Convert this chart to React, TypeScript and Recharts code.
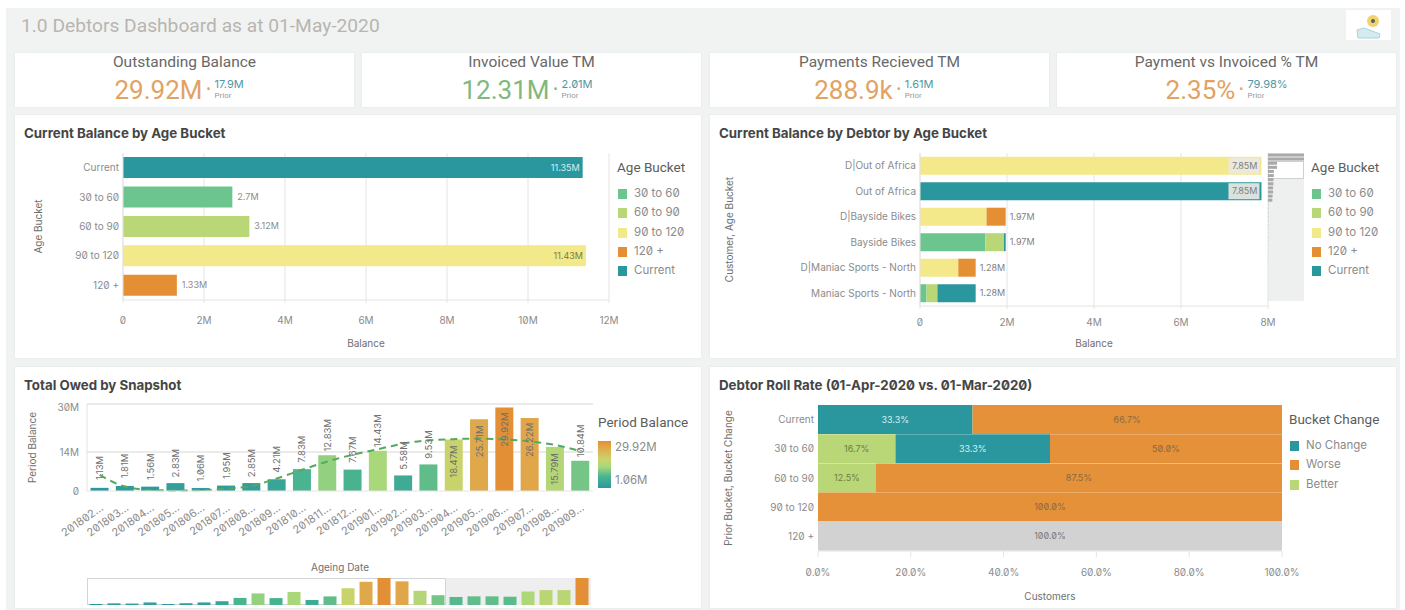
import React from "react";
import {
  BarChart,
  Bar,
  Cell,
  ComposedChart,
  Line,
  XAxis,
  YAxis,
  CartesianGrid,
  LabelList,
} from "recharts";

const ageBuckets = ["Current", "30 to 60", "60 to 90", "90 to 120", "120 +"];
const ageBalances = [11.35, 2.7, 3.12, 11.43, 1.33];
const ageBalanceLabels = ["11.35M", "2.7M", "3.12M", "11.43M", "1.33M"];

const debtors = [
  "D|Out of Africa",
  "Out of Africa",
  "D|Bayside Bikes",
  "Bayside Bikes",
  "D|Maniac Sports - North",
  "Maniac Sports - North",
];
const debtor30to60 = [0, 0, 0, 1.5, 0, 0.15];
const debtor60to90 = [0, 0, 0, 0.43, 0, 0.25];
const debtor90to120 = [7.85, 0, 1.53, 0, 0.88, 0];
const debtor120plus = [0, 0, 0.44, 0, 0.4, 0];
const debtorCurrent = [0, 7.85, 0, 0.04, 0, 0.88];
const debtorTotals = ["7.85M", "7.85M", "1.97M", "1.97M", "1.28M", "1.28M"];
const debtorScrollValues = [
  7.85, 7.85, 1.97, 1.97, 1.28, 1.28, 1.2, 1.2, 1.1, 1.1, 1.0, 0.95, 0.08, 0.08,
  0.07, 0.07, 0.06, 0.06, 0.05, 0.05, 0.05, 0.05, 0.04, 0.04, 0.04, 0.04, 0.03,
  0.03, 0.03, 0.03, 0.02, 0.02, 0.02, 0.02, 0.02, 0.02,
];

const snapshotDates = [
  "201802...", "201803...", "201804...", "201805...", "201806...", "201807...", "201808...",
  "201809...", "201810...", "201811...", "201812...", "201901...", "201902...", "201903...",
  "201904...", "201905...", "201906...", "201907...", "201908...", "201909...",
];
const snapshotBalances = [
  1.13, 1.81, 1.56, 2.83, 1.06, 1.95, 2.85, 4.21, 7.83, 12.83, 7.67, 14.43, 5.58, 9.53, 18.47,
  25.71, 29.92, 26.22, 15.79, 10.84,
];
const snapshotTrend = [
  5.8, 1.6, 0.4, 0.2, 0.3, 0.8, 1.8, 4.5, 7.6, 10.6, 13, 15, 17, 18.2, 18.6, 18.8, 18.5, 17.8,
  16.5, 14.3,
];
const navigatorBalances = [
  1.13, 1.81, 1.56, 2.83, 1.06, 1.95, 2.85, 4.21, 7.83, 12.83, 7.67, 14.43, 5.58, 9.53, 18.47,
  25.71, 29.92, 26.22, 15.79, 10.84, 8.9, 9.6, 9.6, 9.2, 15, 16.5, 16.5, 29.92,
];

const rollBuckets = ["Current", "30 to 60", "60 to 90", "90 to 120", "120 +"];
const rollBetter = [0, 16.7, 12.5, 0, 0];
const rollNoChange = [33.3, 33.3, 0, 0, 0];
const rollWorse = [66.7, 50, 87.5, 100, 0];
const rollUnknown = [0, 0, 0, 0, 100];

const kpis = [
  { title: "Outstanding Balance", value: "29.92M", prior: "17.9M", color: "#e2a262" },
  { title: "Invoiced Value TM", value: "12.31M", prior: "2.01M", color: "#82b87c" },
  { title: "Payments Recieved TM", value: "288.9k", prior: "1.61M", color: "#e2a262" },
  { title: "Payment vs Invoiced % TM", value: "2.35%", prior: "79.98%", color: "#e2a262" },
];

const C30 = "#6cc58f";
const C60 = "#b9d777";
const C90 = "#f3e98a";
const C120 = "#e58f35";
const CCUR = "#2a979f";
const bucketColors = [CCUR, C30, C60, C90, C120];
const ageLegend = [
  ["30 to 60", C30],
  ["60 to 90", C60],
  ["90 to 120", C90],
  ["120 +", C120],
  ["Current", CCUR],
];
const rollLegend = [
  ["No Change", CCUR],
  ["Worse", C120],
  ["Better", C60],
];

const rampStops: [number, number[]][] = [
  [0, [43, 152, 160]],
  [0.25, [76, 181, 142]],
  [0.45, [166, 216, 124]],
  [0.6, [201, 212, 108]],
  [0.85, [223, 170, 76]],
  [1, [227, 143, 53]],
];

function rampColor(v: number) {
  const t = (v - 1.06) / (29.92 - 1.06);
  for (let i = 1; i < rampStops.length; i++) {
    if (t <= rampStops[i][0]) {
      const [t0, c0] = rampStops[i - 1];
      const [t1, c1] = rampStops[i];
      const f = Math.max(0, (t - t0) / (t1 - t0));
      return `rgb(${c0.map((c, k) => Math.round(c + (c1[k] - c) * f)).join(",")})`;
    }
  }
  return "rgb(227,143,53)";
}

const ageData = ageBuckets.map((name, i) => ({ name, value: ageBalances[i], label: ageBalanceLabels[i] }));
const debtorData = debtors.map((name, i) => ({
  name,
  a: debtor30to60[i],
  b: debtor60to90[i],
  c: debtor90to120[i],
  d: debtor120plus[i],
  e: debtorCurrent[i],
  // hairline segment at the end of each stack, only there to carry the total label
  anchor: 0.001,
  total: debtorTotals[i],
}));
const snapshotData = snapshotDates.map((name, i) => ({
  name,
  value: snapshotBalances[i],
  trend: snapshotTrend[i],
}));
const navigatorData = navigatorBalances.map((value, i) => ({ id: i, value }));
const scrollData = debtorScrollValues.map((value, i) => ({ id: i, value }));
const rollData = rollBuckets.map((name, i) => ({
  name,
  better: rollBetter[i],
  same: rollNoChange[i],
  worse: rollWorse[i],
  unknown: rollUnknown[i],
}));

const TICK = { fontSize: 10, fill: "#8b8b8b" };
const AXIS_TITLE = { fontSize: 10, fill: "#6f6f6f" };
const GRID = "#e6e4e2";
const fmtM = (v: number) => (v === 0 ? "0" : `${v}M`);
const fmtPct = (v: number) => `${v.toFixed(1)}%`;
const fmtCell = (v: any) => (v ? `${Number(v).toFixed(1)}%` : "");

function AgeLabel(props: any) {
  const { x, y, width, height, value, index } = props;
  const inside = width > 200;
  return (
    <text
      x={inside ? x + width - 3 : x + width + 5}
      y={y + height / 2 + 3}
      textAnchor={inside ? "end" : "start"}
      fontSize={9}
      fill={inside ? (index === 0 ? "#d6eef0" : "#7d7a45") : "#8b8b8b"}
    >
      {value}
    </text>
  );
}

function DebtorLabel(props: any) {
  const { x, y, height, value, index } = props;
  const big = index < 2;
  return (
    <g>
      {big && <rect x={x - 33} y={y + 1} width={31} height={height - 2} fill="#e9e8e3" opacity={0.92} />}
      <text
        x={big ? x - 4 : x + 4}
        y={y + height / 2 + 3}
        textAnchor={big ? "end" : "start"}
        fontSize={9}
        fill="#7f7f7f"
      >
        {value}
      </text>
    </g>
  );
}

function SnapshotLabel(props: any) {
  const { x, y, width, value } = props;
  const inside = value > 15;
  const cx = x + width / 2;
  const cy = inside ? y + 22 : y - 20;
  return (
    <text
      x={cx}
      y={cy}
      transform={`rotate(-90 ${cx} ${cy})`}
      textAnchor="middle"
      dominantBaseline="central"
      fontSize={9.5}
      fill="#6f6f6f"
    >
      {`${value}M`}
    </text>
  );
}

function Panel({ left, top, width, height, title }: any) {
  return (
    <div
      style={{
        position: "absolute",
        left,
        top,
        width,
        height,
        background: "#fff",
        boxShadow: "0 0 2px #dfe2e2",
      }}
    >
      <div
        style={{
          position: "absolute",
          left: 9,
          top: 10,
          fontSize: 13.3,
          fontWeight: 700,
          color: "#454545",
          whiteSpace: "nowrap",
        }}
      >
        {title}
      </div>
    </div>
  );
}

function LegendBox({ left, top, title, items, step = 19.3, textGap = 17 }: any) {
  return (
    <div style={{ position: "absolute", left, top, whiteSpace: "nowrap" }}>
      <div style={{ fontSize: 13.5, color: "#5c5c5c", fontFamily: "Roboto" }}>{title}</div>
      {items.map(([name, color]: string[], i: number) => (
        <div key={name} style={{ position: "absolute", left: 0, top: 29 + i * step, height: 12 }}>
          <div style={{ position: "absolute", left: 1, top: 1, width: 9, height: 10, background: color }} />
          <div style={{ position: "absolute", left: textGap, top: -2, fontSize: 11.5, color: "#8b8b8b" }}>
            {name}
          </div>
        </div>
      ))}
    </div>
  );
}

function KpiCard({ kpi, left }: any) {
  return (
    <div
      style={{
        position: "absolute",
        left,
        top: 53,
        width: 339,
        height: 54,
        background: "#fff",
        boxShadow: "0 0 2px #dfe2e2",
        fontFamily: "Roboto",
        fontFeatureSettings: "normal",
      }}
    >
      <div style={{ position: "absolute", top: 0, width: "100%", textAlign: "center", fontSize: 15.5, color: "#686868" }}>
        {kpi.title}
      </div>
      <div
        style={{
          position: "absolute",
          top: 21,
          width: "100%",
          display: "flex",
          justifyContent: "center",
          alignItems: "flex-start",
          gap: 4,
        }}
      >
        <span style={{ fontSize: 26, lineHeight: "33px", color: kpi.color }}>{kpi.value}</span>
        <span style={{ fontSize: 12, lineHeight: "30px", color: kpi.color }}>•</span>
        <span style={{ display: "block", width: 40 }}>
          <span style={{ display: "block", fontFamily: "Inter", fontFeatureSettings: '"zero"', fontSize: 11, lineHeight: "12px", marginTop: 4, color: "#4f97a3" }}>
            {kpi.prior}
          </span>
          <span style={{ display: "block", fontSize: 8, lineHeight: "11px", color: "#9a9a9a" }}>Prior</span>
        </span>
      </div>
    </div>
  );
}

export default function App() {
  return (
    <div
      style={{
        position: "absolute",
        left: 0,
        top: 0,
        width: 1405,
        height: 610,
        overflow: "hidden",
        background: "#fff",
        fontFamily: "Inter",
        fontFeatureSettings: '"zero"',
      }}
    >
      <div style={{ position: "absolute", left: 6, top: 8, width: 1394, height: 602, background: "#f1f3f3" }} />
      <div
        style={{
          position: "absolute",
          left: 21,
          top: 14,
          fontFamily: "Roboto",
          fontFeatureSettings: "normal",
          fontSize: 19.2,
          color: "#b8b5b1",
          whiteSpace: "nowrap",
        }}
      >
        1.0 Debtors Dashboard as at 01-May-2020
      </div>
      <svg style={{ position: "absolute", left: 1346, top: 10 }} width={45} height={30}>
        <rect width={45} height={30} fill="#fff" />
        <path d="M11 20 L18 18 L34 24 L33 28 L12 28 Z" fill="#d6ebef" stroke="#a8d3dc" />
        <circle cx={27} cy={11} r={6} fill="#f2d36b" />
        <circle cx={27} cy={11} r={2} fill="#55606b" />
      </svg>

      <KpiCard kpi={kpis[0]} left={15} />
      <KpiCard kpi={kpis[1]} left={362} />
      <KpiCard kpi={kpis[2]} left={710} />
      <KpiCard kpi={kpis[3]} left={1057} />

      <Panel left={15} top={115} width={686} height={243} title="Current Balance by Age Bucket" />
      <Panel left={710} top={115} width={686} height={243} title="Current Balance by Debtor by Age Bucket" />
      <Panel left={15} top={367} width={686} height={241} title="Total Owed by Snapshot" />
      <Panel left={710} top={367} width={686} height={241} title="Debtor Roll Rate (01-Apr-2020 vs. 01-Mar-2020)" />

      <div style={{ position: "absolute", left: 15, top: 115 }}>
        <BarChart
          width={686}
          height={243}
          data={ageData}
          layout="vertical"
          margin={{ top: 38, right: 92, bottom: 0, left: 0 }}
          barCategoryGap="14%"
        >
          <CartesianGrid horizontal={false} stroke={GRID} />
          <XAxis
            type="number"
            domain={[0, 12]}
            ticks={[0, 2, 4, 6, 8, 10, 12]}
            tickFormatter={fmtM}
            height={58}
            tick={TICK}
            stroke={GRID}
            tickSize={3}
            tickMargin={14}
            label={{ value: "Balance", position: "insideBottom", offset: 11, style: AXIS_TITLE }}
          />
          <YAxis
            type="category"
            dataKey="name"
            width={108}
            tick={TICK}
            tickLine={false}
            tickSize={2}
            stroke={GRID}
            label={{ value: "Age Bucket", angle: -90, position: "center", dx: -31, style: AXIS_TITLE }}
          />
          <Bar dataKey="value" isAnimationActive={false}>
            {ageData.map((d, i) => (
              <Cell key={d.name} fill={bucketColors[i]} />
            ))}
            <LabelList dataKey="label" content={AgeLabel} />
          </Bar>
        </BarChart>
      </div>
      <LegendBox left={617} top={159} title="Age Bucket" items={ageLegend} />

      <div style={{ position: "absolute", left: 710, top: 115 }}>
        <BarChart
          width={686}
          height={243}
          data={debtorData}
          layout="vertical"
          margin={{ top: 38, right: 128, bottom: 0, left: 0 }}
          barCategoryGap="14.5%"
        >
          <CartesianGrid horizontal={false} stroke={GRID} />
          <XAxis
            type="number"
            domain={[0, 8]}
            ticks={[0, 2, 4, 6, 8]}
            tickFormatter={fmtM}
            height={52}
            tick={TICK}
            stroke={GRID}
            tickSize={3}
            tickMargin={10}
            label={{ value: "Balance", position: "insideBottom", offset: 11, style: AXIS_TITLE }}
          />
          <YAxis
            type="category"
            dataKey="name"
            width={210}
            tick={TICK}
            tickLine={false}
            tickSize={2}
            stroke={GRID}
            interval={0}
            label={{ value: "Customer, Age Bucket", angle: -90, position: "center", dx: -86, style: AXIS_TITLE }}
          />
          <Bar dataKey="a" stackId="s" fill={C30} isAnimationActive={false} />
          <Bar dataKey="b" stackId="s" fill={C60} isAnimationActive={false} />
          <Bar dataKey="c" stackId="s" fill={C90} isAnimationActive={false} />
          <Bar dataKey="d" stackId="s" fill={C120} isAnimationActive={false} />
          <Bar dataKey="e" stackId="s" fill={CCUR} isAnimationActive={false} />
          <Bar dataKey="anchor" stackId="s" fill="none" isAnimationActive={false}>
            <LabelList dataKey="total" content={DebtorLabel} />
          </Bar>
        </BarChart>
      </div>
      <div style={{ position: "absolute", left: 1268, top: 153, width: 36, height: 148, background: "#eef0f0" }} />
      <div style={{ position: "absolute", left: 1268, top: 161, width: 36, height: 18, background: "#fff", boxShadow: "inset 0 0 0 1px #cfcfcf" }} />
      <div style={{ position: "absolute", left: 1268, top: 153 }}>
        <BarChart
          width={36}
          height={148}
          data={scrollData}
          layout="vertical"
          margin={{ top: 0, right: 0, bottom: 0, left: 0 }}
          barCategoryGap="12%"
        >
          <XAxis type="number" hide domain={[0, 7.85]} />
          <YAxis type="category" dataKey="id" hide />
          <Bar dataKey="value" fill="#a9a9a9" isAnimationActive={false} />
        </BarChart>
      </div>
      <LegendBox left={1311} top={159} title="Age Bucket" items={ageLegend} />

      <div style={{ position: "absolute", left: 15, top: 367 }}>
        <ComposedChart
          width={686}
          height={208}
          data={snapshotData}
          margin={{ top: 37, right: 108, bottom: 0, left: 0 }}
          barCategoryGap="14%"
        >
          <CartesianGrid vertical={false} horizontalValues={[14, 31.2]} stroke={GRID} strokeWidth={1.5} />
          <XAxis
            dataKey="name"
            interval={0}
            angle={-35}
            textAnchor="end"
            height={84}
            tick={{ fontSize: 11, fill: "#8b8b8b" }}
            tickLine={false}
            tickMargin={6}
            stroke={GRID}
            label={{ value: "Ageing Date", position: "insideBottom", offset: 4, style: AXIS_TITLE }}
          />
          <YAxis
            type="number"
            domain={[0, 31.2]}
            ticks={[0, 14, 30]}
            tickFormatter={fmtM}
            width={72}
            tick={TICK}
            tickLine={false}
            stroke={GRID}
            label={{ value: "Period Balance", angle: -90, position: "center", dx: -19, style: AXIS_TITLE }}
          />
          <Bar dataKey="value" isAnimationActive={false}>
            {snapshotData.map((d) => (
              <Cell key={d.name} fill={rampColor(d.value)} />
            ))}
            <LabelList dataKey="value" content={SnapshotLabel} />
          </Bar>
          <Line
            dataKey="trend"
            stroke="#55a95f"
            strokeWidth={2}
            strokeDasharray="7 5"
            dot={false}
            type="monotone"
            isAnimationActive={false}
          />
        </ComposedChart>
      </div>
      <div style={{ position: "absolute", left: 598, top: 414, fontSize: 13.5, color: "#5c5c5c", fontFamily: "Roboto" }}>
        Period Balance
      </div>
      <div
        style={{
          position: "absolute",
          left: 598,
          top: 441,
          width: 13,
          height: 47,
          background: "linear-gradient(#e38f35, #dfaa4c 15%, #c9d46c 40%, #a6d87c 55%, #4cb58e 75%, #2b98a0)",
        }}
      />
      <div style={{ position: "absolute", left: 615, top: 440, fontSize: 11.5, color: "#8b8b8b" }}>29.92M</div>
      <div style={{ position: "absolute", left: 615, top: 473, fontSize: 11.5, color: "#8b8b8b" }}>1.06M</div>

      <div style={{ position: "absolute", left: 87, top: 578, width: 359, height: 27, boxSizing: "border-box", border: "1px solid #d4d4d4" }} />
      <div style={{ position: "absolute", left: 446, top: 578, width: 145, height: 27, background: "#eeeeee" }} />
      <div style={{ position: "absolute", left: 87, top: 578 }}>
        <BarChart
          width={504}
          height={27}
          data={navigatorData}
          margin={{ top: 0, right: 0, bottom: 0, left: 0 }}
          barCategoryGap="14%"
        >
          <XAxis dataKey="id" hide />
          <YAxis hide domain={[0, 29.92]} />
          <Bar dataKey="value" isAnimationActive={false}>
            {navigatorData.map((d) => (
              <Cell key={d.id} fill={rampColor(d.value)} />
            ))}
          </Bar>
        </BarChart>
      </div>

      <div style={{ position: "absolute", left: 710, top: 367 }}>
        <BarChart
          width={686}
          height={241}
          data={rollData}
          layout="vertical"
          margin={{ top: 38, right: 114, bottom: 0, left: 0 }}
          barCategoryGap={0}
        >
          <XAxis
            type="number"
            domain={[0, 100]}
            ticks={[0, 20, 40, 60, 80, 100]}
            tickFormatter={fmtPct}
            height={57}
            tick={TICK}
            stroke={GRID}
            tickSize={6}
            tickMargin={12}
            label={{ value: "Customers", position: "insideBottom", offset: 8, style: AXIS_TITLE }}
          />
          <YAxis
            type="category"
            dataKey="name"
            width={108}
            tick={TICK}
            tickLine={false}
            tickSize={2}
            axisLine={false}
            label={{ value: "Prior Bucket, Bucket Change", angle: -90, position: "center", dx: -36, style: AXIS_TITLE }}
          />
          <Bar dataKey="better" stackId="r" fill={C60} isAnimationActive={false}>
            <LabelList dataKey="better" position="center" formatter={fmtCell} fontSize={9} fill="#6d7d45" />
          </Bar>
          <Bar dataKey="same" stackId="r" fill={CCUR} isAnimationActive={false}>
            <LabelList dataKey="same" position="center" formatter={fmtCell} fontSize={9} fill="#d6eef0" />
          </Bar>
          <Bar dataKey="worse" stackId="r" fill="#e5913a" isAnimationActive={false}>
            <LabelList dataKey="worse" position="center" formatter={fmtCell} fontSize={9} fill="#8a6a3e" />
          </Bar>
          <Bar dataKey="unknown" stackId="r" fill="#d2d2d2" isAnimationActive={false}>
            <LabelList dataKey="unknown" position="center" formatter={fmtCell} fontSize={9} fill="#7a7a7a" />
          </Bar>
        </BarChart>
      </div>
      <LegendBox left={1289} top={411} title="Bucket Change" items={rollLegend} textGap={17} />
    </div>
  );
}
